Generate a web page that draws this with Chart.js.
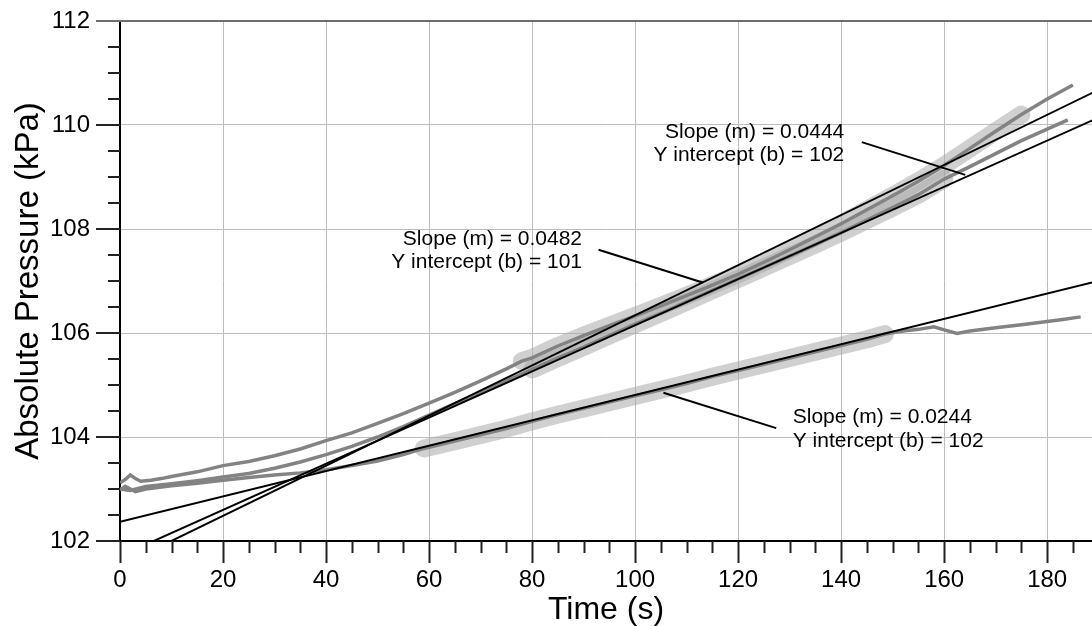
<!DOCTYPE html>
<html>
<head>
<meta charset="utf-8">
<title>Absolute Pressure vs Time</title>
<script src="https://cdn.jsdelivr.net/npm/chart.js@4.4.1/dist/chart.umd.min.js"></script>
<style>
  html, body { margin: 0; padding: 0; background: #fff; }
  #wrap { width: 1092px; height: 626px; }
</style>
</head>
<body>
<div id="wrap"><canvas id="chart" width="1092" height="626"></canvas></div>
<script>
const FONT = 'Arial, "Liberation Sans", sans-serif';

// run 1 - upper curve (fit 0.0482)
const run1Time = [0, 1, 2, 3, 4, 6, 8, 10, 15, 20, 25, 30, 35, 40, 45, 50, 55, 60, 65, 70, 75, 78, 80, 85, 90, 95, 100, 105, 110, 115, 120, 125, 130, 135, 140, 145, 150, 155, 160, 165, 170, 175, 180, 185];
const run1Pressure = [103.12, 103.18, 103.27, 103.2, 103.15, 103.17, 103.2, 103.24, 103.33, 103.45, 103.53, 103.64, 103.77, 103.93, 104.08, 104.26, 104.45, 104.65, 104.86, 105.08, 105.31, 105.46, 105.52, 105.75, 105.95, 106.14, 106.33, 106.52, 106.72, 106.92, 107.13, 107.36, 107.6, 107.85, 108.1, 108.37, 108.64, 108.92, 109.22, 109.55, 109.88, 110.2, 110.5, 110.77];

// run 2 - middle curve (fit 0.0444)
const run2Time = [0, 2, 5, 10, 15, 20, 25, 30, 35, 40, 45, 50, 55, 60, 65, 70, 75, 80, 85, 90, 95, 100, 105, 110, 115, 120, 125, 130, 135, 140, 145, 150, 155, 160, 165, 170, 175, 180, 184];
const run2Pressure = [103.0, 102.97, 103.05, 103.1, 103.16, 103.23, 103.3, 103.4, 103.52, 103.66, 103.82, 104.0, 104.2, 104.42, 104.64, 104.86, 105.08, 105.3, 105.52, 105.73, 105.95, 106.17, 106.38, 106.6, 106.82, 107.04, 107.26, 107.48, 107.7, 107.93, 108.17, 108.41, 108.66, 108.96, 109.2, 109.45, 109.7, 109.92, 110.1];

// run 3 - lower curve (fit 0.0244)
const run3Time = [0, 1, 3, 5, 10, 15, 20, 25, 30, 35, 40, 45, 50, 55, 59, 65, 70, 75, 80, 85, 90, 95, 100, 105, 110, 115, 120, 125, 130, 135, 140, 145, 148.5, 152, 155, 158, 160, 162.5, 165, 170, 175, 180, 183, 186.5];
const run3Pressure = [102.98, 103.05, 102.95, 103.0, 103.06, 103.11, 103.17, 103.22, 103.27, 103.31, 103.37, 103.45, 103.54, 103.66, 103.78, 103.92, 104.04, 104.16, 104.3, 104.43, 104.55, 104.67, 104.79, 104.91, 105.03, 105.16, 105.28, 105.4, 105.52, 105.64, 105.76, 105.88, 105.98, 106.04, 106.07, 106.12, 106.06, 105.99, 106.04, 106.1, 106.16, 106.22, 106.26, 106.31];

// selected (fitted) ranges, in s
const fitFrom = [78, 80, 59];
const fitTo = [175, 160, 148.5];

// linear fit lines, end points
const fitLineTime = [0, 189];
const fit1Pressure = [101.52, 110.63];
const fit2Pressure = [101.71, 110.10];
const fit3Pressure = [102.37, 106.98];

// fit results shown in the callouts
const fitSlopes = ['0.0482', '0.0444', '0.0244'];
const fitIntercepts = ['101', '102', '102'];
const calloutTime = [89.7, 140.6, 130.6];
const calloutPressure = [107.81, 109.87, 104.38];
// leader lines: [start time, end time], [start pressure, end pressure]
const leaderTime = [[92.9, 113.1], [144.0, 164.1], [127.4, 105.5]];
const leaderPressure = [[107.60, 106.97], [109.67, 109.04], [104.17, 104.85]];

const xTicks = { min: 0, max: 188.7, major: 20, minor: 5 };
const yTicks = { min: 102, max: 112, major: 2, minor: 0.5 };

const pts = (xs, ys) => xs.map((x, i) => ({ x: x, y: ys[i] }));
const runs = [pts(run1Time, run1Pressure), pts(run2Time, run2Pressure), pts(run3Time, run3Pressure)];
const fits = [fit1Pressure, fit2Pressure, fit3Pressure].map(p => pts(fitLineTime, p));

const datasets = [];
leaderTime.forEach((t, i) => {
  datasets.push({ data: pts(t, leaderPressure[i]), borderColor: '#000', borderWidth: 2, order: 0 });
});
fits.forEach(f => {
  datasets.push({ data: f, borderColor: '#000', borderWidth: 2, order: 1 });
});
runs.forEach(r => {
  datasets.push({ data: r, borderColor: '#838383', borderWidth: 3.5, order: 2 });
});
runs.forEach((r, i) => {
  datasets.push({
    data: r.filter(p => p.x >= fitFrom[i] && p.x <= fitTo[i]),
    borderColor: 'rgba(170,170,170,0.55)', borderWidth: 18,
    borderCapStyle: 'round', borderJoinStyle: 'round', order: 3
  });
});
datasets.forEach(d => { d.showLine = true; d.pointRadius = 0; d.fill = false; });

// minor/major tick marks and top frame
const axisDecor = {
  id: 'axisDecor',
  afterDraw(chart) {
    const { ctx, chartArea: a, scales: { x, y } } = chart;
    ctx.save();
    ctx.lineWidth = 2;
    ctx.strokeStyle = '#6e6e6e';
    ctx.beginPath();
    ctx.moveTo(a.left - 24, a.top);
    ctx.lineTo(a.right, a.top);
    ctx.stroke();

    ctx.strokeStyle = '#222';
    ctx.beginPath();
    for (let v = xTicks.min; v <= xTicks.max; v += xTicks.minor) {
      const px = Math.round(x.getPixelForValue(v)) + 0.5;
      const len = v % xTicks.major === 0 ? 22 : 12;
      ctx.moveTo(px, a.bottom);
      ctx.lineTo(px, a.bottom + len);
    }
    for (let v = yTicks.min; v < yTicks.max; v += yTicks.minor) {
      const py = Math.round(y.getPixelForValue(v));
      const len = (v - yTicks.min) % yTicks.major === 0 ? 24 : 12;
      ctx.moveTo(a.left, py);
      ctx.lineTo(a.left - len, py);
    }
    ctx.stroke();
    ctx.restore();
  }
};

// fit callouts
const callouts = {
  id: 'callouts',
  afterDatasetsDraw(chart) {
    const { ctx, scales: { x, y } } = chart;
    ctx.save();
    ctx.font = '21px ' + FONT;
    ctx.fillStyle = '#000';
    ctx.textBaseline = 'middle';
    fitSlopes.forEach((s, i) => {
      const px = x.getPixelForValue(calloutTime[i]);
      const py = y.getPixelForValue(calloutPressure[i]);
      ctx.textAlign = i === 2 ? 'left' : 'right';
      ctx.fillText('Slope (m) = ' + s, px, py);
      ctx.fillText('Y intercept (b) = ' + fitIntercepts[i], px, py + 23.5);
    });
    ctx.restore();
  }
};

new Chart(document.getElementById('chart'), {
  type: 'scatter',
  data: { datasets: datasets },
  plugins: [axisDecor, callouts],
  options: {
    responsive: false,
    animation: false,
    events: [],
    layout: { padding: { top: 21, right: 0, bottom: 0, left: 0 } },
    plugins: { legend: { display: false }, tooltip: { enabled: false } },
    elements: { line: { tension: 0 }, point: { radius: 0 } },
    scales: {
      x: {
        type: 'linear',
        min: xTicks.min,
        max: xTicks.max,
        afterFit(scale) { scale.height = 85; scale.paddingLeft = 0; scale.paddingRight = 0; },
        border: { color: '#000', width: 2 },
        grid: { color: '#bdbdbd', lineWidth: 1, drawTicks: false },
        ticks: { stepSize: xTicks.major, includeBounds: false, padding: 25, color: '#000', font: { family: FONT, size: 24 } },
        title: { display: true, text: 'Time (s)', color: '#000', padding: { top: 0, bottom: -3 }, font: { family: FONT, size: 32 } }
      },
      y: {
        type: 'linear',
        min: yTicks.min,
        max: yTicks.max,
        afterFit(scale) { scale.width = 120; scale.paddingTop = 0; scale.paddingBottom = 0; },
        border: { color: '#000', width: 2 },
        grid: { color: '#bdbdbd', lineWidth: 1, drawTicks: false },
        ticks: { stepSize: yTicks.major, includeBounds: false, padding: 30, color: '#000', font: { family: FONT, size: 24 } },
        title: { display: true, text: 'Absolute Pressure (kPa)', color: '#000', padding: { top: 9, bottom: 0 }, font: { family: FONT, size: 33 } }
      }
    }
  }
});
</script>
</body>
</html>
